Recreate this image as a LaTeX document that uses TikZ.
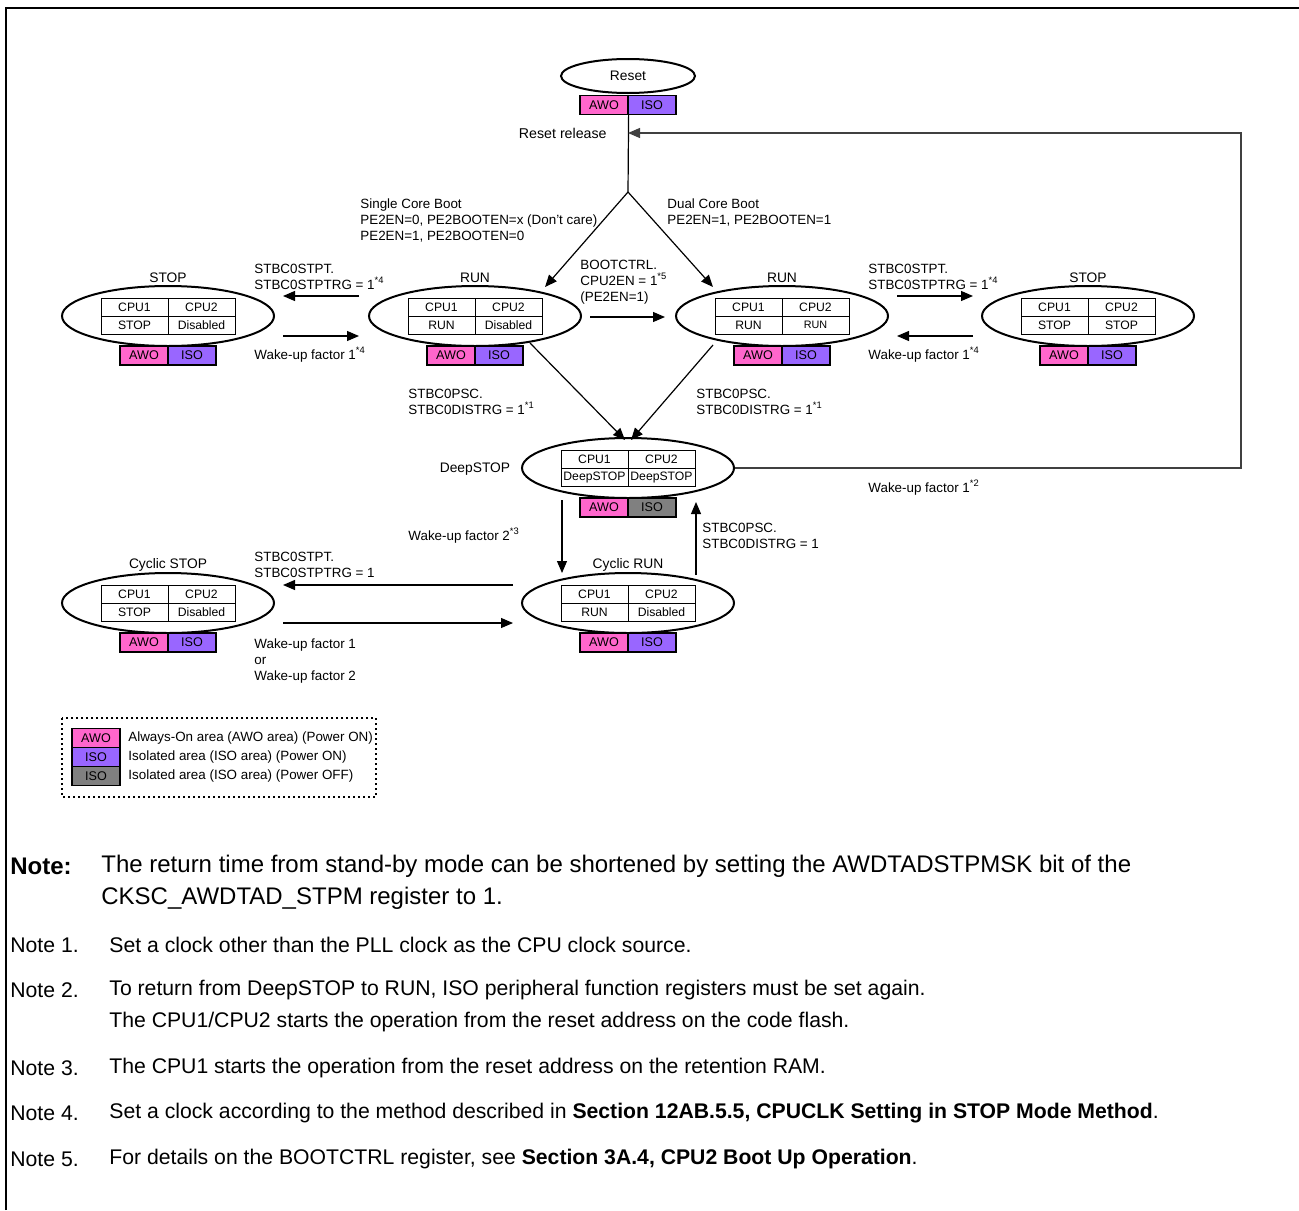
\documentclass[tikz,border=0pt]{standalone}
\usepackage{fontspec}
\setmainfont{Liberation Sans}
\usetikzlibrary{arrows.meta,calc,shapes.geometric}
\definecolor{awo}{RGB}{255,102,204}
\definecolor{isoon}{RGB}{153,102,255}
\definecolor{isooff}{RGB}{128,128,128}
\tikzset{
  state/.style={ellipse, draw, line width=1pt, minimum width=106pt, minimum height=30pt, inner sep=0pt},
  cell/.style={draw, line width=0.5pt, minimum width=33.5pt, minimum height=9pt, inner sep=0pt, font=\fontsize{6.1}{7}\selectfont},
  area/.style={draw, line width=0.6pt, minimum width=24pt, minimum height=9.5pt, inner sep=0pt, font=\fontsize{6.3}{7}\selectfont},
  ttl/.style={inner sep=0pt, font=\fontsize{6.9}{8}\selectfont},
  lbl/.style={inner sep=0pt, anchor=west, align=left, font=\fontsize{6.7}{8}\selectfont},
  note/.style={inner sep=0pt, anchor=west, align=left, font=\fontsize{10.6}{16}\selectfont},
  bignote/.style={note, font=\fontsize{12}{16}\selectfont},
  arr/.style={-{Triangle[length=6pt,width=5pt]}, line width=0.6pt},
  link/.style={line width=0.6pt},
}
\begin{document}
\begin{tikzpicture}[x=0.5pt,y=-0.5pt]
  \useasboundingbox (0,0) rectangle (1299,1210);
  \draw[line width=1pt] (6,1210) -- (6,8) -- (1299,8);

  % reset
  \node[state, minimum width=67pt, minimum height=17pt, font=\fontsize{6.9}{8}\selectfont] (reset) at (628,76) {Reset};
  \node[area, fill=awo] (reset-awo) at (604,105) {AWO};
  \node[area, fill=isoon] (reset-iso) at (652,105) {ISO};
  \coordinate (rel) at (628,133);
  \coordinate (fork) at (628,192);
  \coordinate (back) at (1241,133);

  % states
  \foreach \nm/\cx/\cy/\sa/\sb/\iso in {stopL/168/316/STOP/Disabled/isoon,
      runL/475/316/RUN/Disabled/isoon,
      runR/782/316/RUN/{\fontsize{5.4}{6}\selectfont RUN}/isoon,
      stopR/1088/316/STOP/STOP/isoon,
      deep/628/468/DeepSTOP/DeepSTOP/isooff,
      crun/628/603/RUN/Disabled/isoon,
      cstop/168/603/STOP/Disabled/isoon}{
    \node[state] (\nm) at (\cx,\cy) {};
    \node[cell] (\nm-a) at (\cx-33.5,\cy-9) {CPU1};
    \node[cell] (\nm-b) at (\cx+33.5,\cy-9) {CPU2};
    \node[cell] (\nm-c) at (\cx-33.5,\cy+9) {\sa};
    \node[cell] (\nm-d) at (\cx+33.5,\cy+9) {\sb};
    \node[area, fill=awo] (\nm-awo) at (\cx-24,\cy+39.5) {AWO};
    \node[area, fill=\iso] (\nm-iso) at (\cx+24,\cy+39.5) {ISO};
  }
  \node[ttl] (stopL-t) at (168,278) {STOP};
  \node[ttl] (runL-t) at (475,278) {RUN};
  \node[ttl] (runR-t) at (782,278) {RUN};
  \node[ttl] (stopR-t) at (1088,278) {STOP};
  \node[ttl] (deep-t) at (475,469) {DeepSTOP};
  \node[ttl] (crun-t) at (628,565) {Cyclic RUN};
  \node[ttl] (cstop-t) at (168,565) {Cyclic STOP};

  % connectors
  \draw[link] (reset-awo.south east) -- (fork);
  \draw[arr] (fork) -- ($(runL)+(70,-29)$);
  \draw[arr] (fork) -- ($(runR)+(-69,-29)$);
  \draw[arr, draw=black!75] (deep.east) -| (back) -- (rel);
  \draw[arr] ($(runL.west)+(-9,-20)$) -- ($(stopL.east)+(8,-20)$);
  \draw[arr] ($(stopL.east)+(8,20)$) -- ($(runL.west)+(-9,20)$);
  \draw[arr] ($(runL.east)+(8,1)$) -- ($(runR.west)+(-10,1)$);
  \draw[arr] ($(runR.east)+(8,-20)$) -- ($(stopR.west)+(-8,-20)$);
  \draw[arr] ($(stopR.west)+(-8,20)$) -- ($(runR.east)+(8,20)$);
  \draw[arr] ($(runL)+(55,27)$) -- ($(deep)+(-3,-28)$);
  \draw[arr] ($(runR)+(-69,29)$) -- ($(deep)+(3,-28)$);
  \draw[arr] ($(deep)+(-66,32)$) -- ($(crun)+(-66,-30)$);
  \draw[arr] ($(crun)+(68,-28)$) -- ($(deep)+(68,34)$);
  \draw[arr] ($(crun.west)+(-8,-18)$) -- ($(cstop.east)+(8,-18)$);
  \draw[arr] ($(cstop.east)+(8,20)$) -- ($(crun.west)+(-8,20)$);

  % labels
  \node[lbl, anchor=east, font=\fontsize{7.1}{8}\selectfont] (l-rel) at (607,133) {Reset release};
  \node[lbl] (l-single) at (360,220) {Single Core Boot\\PE2EN=0, PE2BOOTEN=x (Don't care)\\PE2EN=1, PE2BOOTEN=0};
  \node[lbl] (l-dual) at (667,212) {Dual Core Boot\\PE2EN=1, PE2BOOTEN=1};
  \node[lbl] (l-stpL) at (254,277) {STBC0STPT.\\STBC0STPTRG = 1\textsuperscript{*4}};
  \node[lbl] (l-wakeL) at (254,355) {Wake-up factor 1\textsuperscript{*4}};
  \node[lbl] (l-boot) at (580,282) {BOOTCTRL.\\CPU2EN = 1\textsuperscript{*5}\\(PE2EN=1)};
  \node[lbl] (l-stpR) at (868,277) {STBC0STPT.\\STBC0STPTRG = 1\textsuperscript{*4}};
  \node[lbl] (l-wakeR) at (868,355) {Wake-up factor 1\textsuperscript{*4}};
  \node[lbl] (l-pscL) at (408,402) {STBC0PSC.\\STBC0DISTRG = 1\textsuperscript{*1}};
  \node[lbl] (l-pscR) at (696,402) {STBC0PSC.\\STBC0DISTRG = 1\textsuperscript{*1}};
  \node[lbl] (l-wk1) at (868,488) {Wake-up factor 1\textsuperscript{*2}};
  \node[lbl] (l-wk2) at (408,536) {Wake-up factor 2\textsuperscript{*3}};
  \node[lbl] (l-pscC) at (702,536) {STBC0PSC.\\STBC0DISTRG = 1};
  \node[lbl] (l-stpC) at (254,565) {STBC0STPT.\\STBC0STPTRG = 1};
  \node[lbl] (l-wkC) at (254,661) {Wake-up factor 1\\or\\Wake-up factor 2};

  % legend
  \draw[line width=0.9pt, dash pattern=on 0.9pt off 1.6pt] (62,718) rectangle (376,797);
  \node[area, minimum height=9.5pt, fill=awo] (k-awo) at (96,738) {AWO};
  \node[area, minimum height=9.5pt, fill=isoon] (k-on) at (96,757) {ISO};
  \node[area, minimum height=9.5pt, fill=isooff] (k-off) at (96,776) {ISO};
  \node[lbl] (t-awo) at (128,738) {Always-On area (AWO area) (Power ON)};
  \node[lbl] (t-on) at (128,757) {Isolated area (ISO area) (Power ON)};
  \node[lbl] (t-off) at (128,776) {Isolated area (ISO area) (Power OFF)};

  % notes
  \node[bignote] (n0) at (10,866) {\textbf{Note:}};
  \node[bignote] (n0t) at (101,882) {The return time from stand-by mode can be shortened by setting the AWDTADSTPMSK bit of the\\CKSC\_AWDTAD\_STPM register to 1.};
  \node[note] (n1) at (10,945) {Note 1.};
  \node[note] (n1t) at (109,945) {Set a clock other than the PLL clock as the CPU clock source.};
  \node[note] (n2) at (10,990) {Note 2.};
  \node[note] (n2t) at (109,1006) {To return from DeepSTOP to RUN, ISO peripheral function registers must be set again.\\The CPU1/CPU2 starts the operation from the reset address on the code flash.};
  \node[note] (n3) at (10,1068) {Note 3.};
  \node[note] (n3t) at (109,1068) {The CPU1 starts the operation from the reset address on the retention RAM.};
  \node[note] (n4) at (10,1113) {Note 4.};
  \node[note] (n4t) at (109,1113) {Set a clock according to the method described in \textbf{Section 12AB.5.5, CPUCLK Setting in STOP Mode Method}.};
  \node[note] (n5) at (10,1159) {Note 5.};
  \node[note] (n5t) at (109,1159) {For details on the BOOTCTRL register, see \textbf{Section 3A.4, CPU2 Boot Up Operation}.};
\end{tikzpicture}
\end{document}
